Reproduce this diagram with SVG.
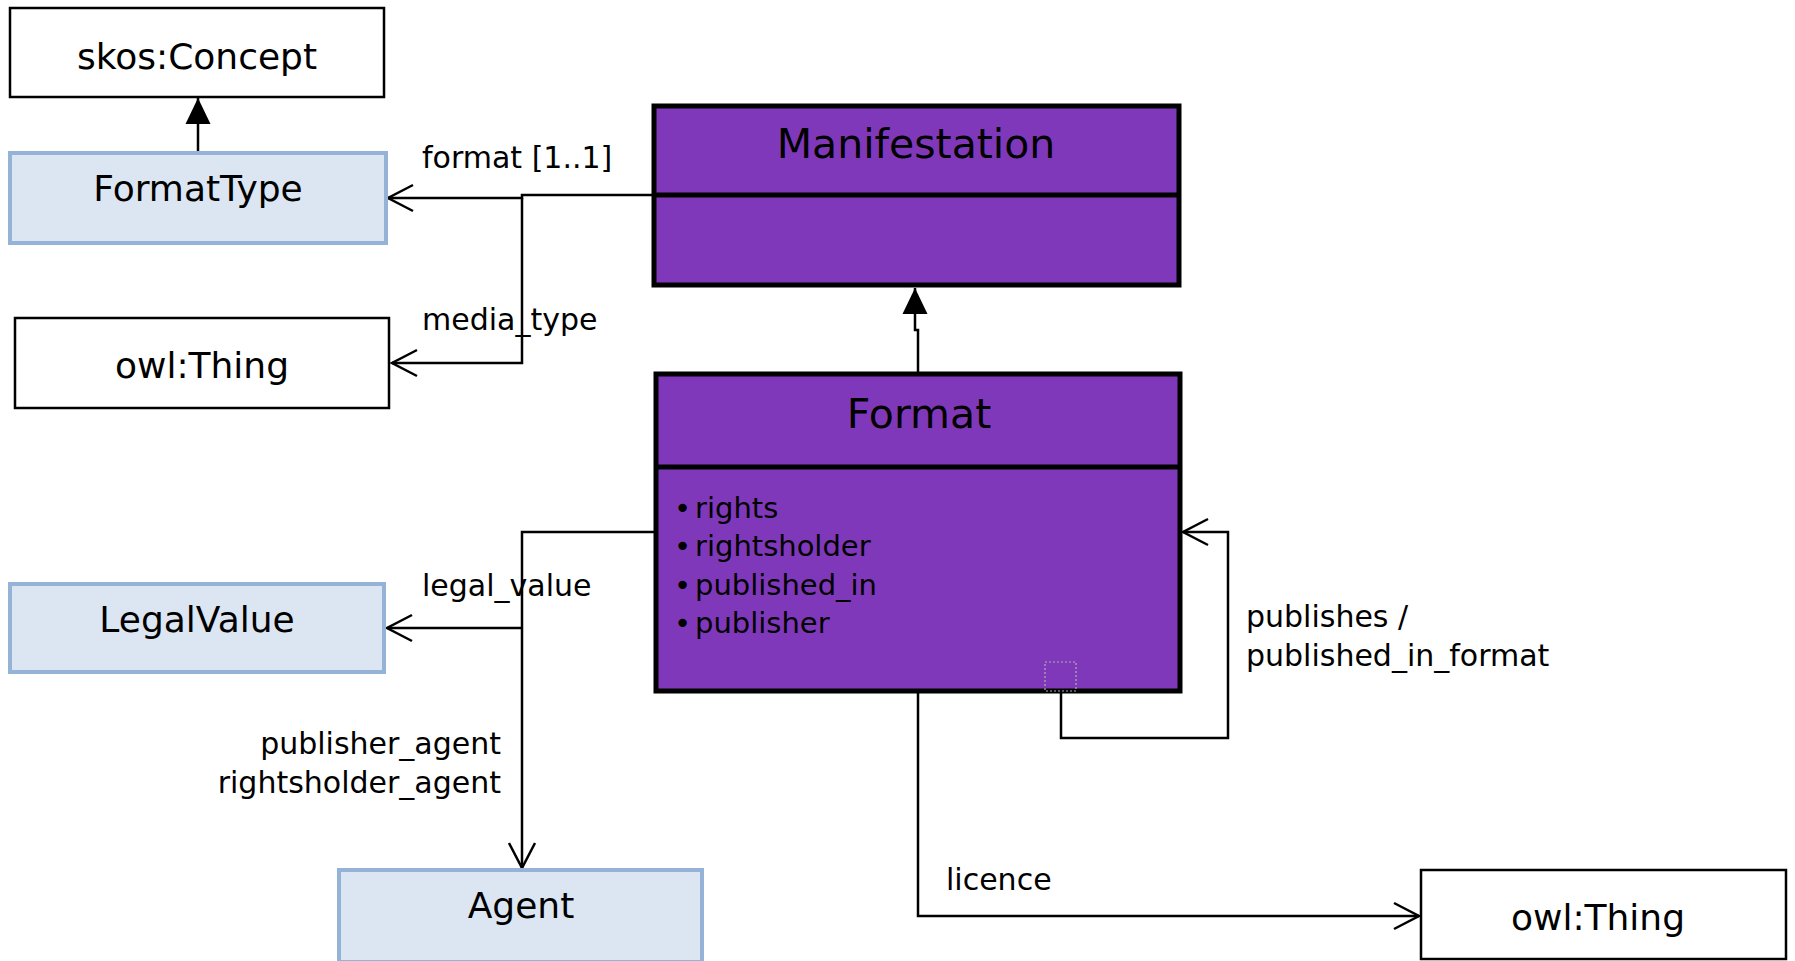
<svg xmlns="http://www.w3.org/2000/svg" width="1795" height="961" viewBox="0 0 1795 961">
<defs>
<style>
.plain{fill:#ffffff;stroke:#000;stroke-width:2.5}
.blue{fill:#dce6f2;stroke:#95b3d7;stroke-width:4}
.purple{fill:#8038ba;stroke:#000;stroke-width:5}
.div{stroke:#000;stroke-width:5}
text{font-family:"DejaVu Sans",sans-serif;fill:#000}
.lbl{font-size:36px;text-anchor:middle}
.ttl{font-size:41px;text-anchor:middle}
.attr{font-size:29px}
.edge{font-size:30px}
.conn{fill:none;stroke:#000;stroke-width:2.5}
.open{marker-end:url(#open)}
.gen{marker-end:url(#tri)}
</style>
<marker id="open" viewBox="-28 -16 32 32" refX="0" refY="0" markerWidth="32" markerHeight="32" markerUnits="userSpaceOnUse" orient="auto">
<path d="M-25,-13 L0,0 L-25,13" fill="none" stroke="#000" stroke-width="2.5"/>
</marker>
<marker id="tri" viewBox="-28 -15 30 30" refX="0" refY="0" markerWidth="30" markerHeight="30" markerUnits="userSpaceOnUse" orient="auto">
<path d="M-26,-12.5 L0,0 L-26,12.5 Z" fill="#000"/>
</marker>
</defs>
<rect width="1795" height="961" fill="#ffffff"/>

<g id="connectors">
<path class="conn gen" d="M198,153 L198,98"/>
<path class="conn open" d="M654,195 L522,195 L522,198 L388,198"/>
<path class="conn open" d="M522,198 L522,363 L392,363"/>
<path class="conn gen" d="M918,374 L918,330 L915,330 L915,288"/>
<path class="conn open" d="M656,532 L522,532 L522,868"/>
<path class="conn open" d="M522,628 L387,628"/>
<path class="conn open" d="M1061,691 L1061,738 L1228,738 L1228,532 L1183,532"/>
<path class="conn open" d="M918,691 L918,916 L1419,916"/>
<text class="edge" x="422" y="168">format [1..1]</text>
<text class="edge" x="422" y="330">media_type</text>
<text class="edge" x="422" y="596">legal_value</text>
<text class="edge" x="501" y="754" text-anchor="end">publisher_agent</text>
<text class="edge" x="501" y="793" text-anchor="end">rightsholder_agent</text>
<text class="edge" x="946" y="890">licence</text>
<text class="edge" x="1246" y="627">publishes /</text>
<text class="edge" x="1246" y="666">published_in_format</text>
</g>

<g id="skosConcept">
<rect class="plain" x="10" y="8" width="374" height="89"/>
<text class="lbl" x="197" y="69">skos:Concept</text>
</g>

<g id="FormatType">
<rect class="blue" x="10" y="153" width="376" height="90"/>
<text class="lbl" x="198" y="201">FormatType</text>
</g>

<g id="owlThingLeft">
<rect class="plain" x="15" y="318" width="374" height="90"/>
<text class="lbl" x="202" y="378">owl:Thing</text>
</g>

<g id="Manifestation">
<rect class="purple" x="654" y="106" width="525" height="179"/>
<line class="div" x1="654" y1="195" x2="1179" y2="195"/>
<text class="ttl" x="916" y="158">Manifestation</text>
</g>

<g id="Format">
<rect class="purple" x="656" y="374" width="524" height="317"/>
<line class="div" x1="656" y1="467" x2="1180" y2="467"/>
<text class="ttl" x="919" y="428">Format</text>
<text class="attr" y="518"><tspan x="674">•</tspan><tspan x="695">rights</tspan></text>
<text class="attr" y="556"><tspan x="674">•</tspan><tspan x="695">rightsholder</tspan></text>
<text class="attr" y="595"><tspan x="674">•</tspan><tspan x="695">published_in</tspan></text>
<text class="attr" y="633"><tspan x="674">•</tspan><tspan x="695">publisher</tspan></text>
<rect x="1045" y="662" width="31" height="29" fill="none" stroke="#b0b0b0" stroke-width="1.2" stroke-dasharray="2,2"/>
</g>

<g id="LegalValue">
<rect class="blue" x="10" y="584" width="374" height="88"/>
<text class="lbl" x="197" y="632">LegalValue</text>
</g>

<g id="Agent">
<rect class="blue" x="339" y="870" width="363" height="92"/>
<text class="lbl" x="521" y="918">Agent</text>
</g>

<g id="owlThingRight">
<rect class="plain" x="1421" y="870" width="365" height="89"/>
<text class="lbl" x="1598" y="930">owl:Thing</text>
</g>
</svg>
